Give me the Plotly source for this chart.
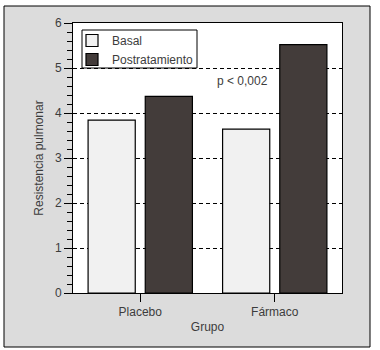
import plotly.graph_objects as go

categories = ["Placebo", "Fármaco"]
basal = [3.84, 3.64]
postratamiento = [4.37, 5.52]
series_names = ["Basal", "Postratamiento"]
y_ticks = [0, 1, 2, 3, 4, 5, 6]
annotation_text = "p < 0,002"

W, H = 380, 350
L, R, T, B = 73, 38, 23, 57
pw, ph = W - L - R, H - T - B

def px2paper_x(px):
    return (px - L) / pw

def px2paper_y(py):
    return (H - B - py) / ph

txt = "#3c3c3c"
font = dict(family="Liberation Sans, Arial, sans-serif", size=12, color=txt)

fig = go.Figure()
fig.add_trace(go.Bar(
    x=categories, y=basal, name=series_names[0],
    marker=dict(color="#f1f1f1", line=dict(color="black", width=1.2)),
))
fig.add_trace(go.Bar(
    x=categories, y=postratamiento, name=series_names[1],
    marker=dict(color="#433c3a", line=dict(color="black", width=1.2)),
))

fig.update_layout(
    width=W, height=H,
    margin=dict(l=L, r=R, t=T, b=B),
    paper_bgcolor="white", plot_bgcolor="white",
    font=font,
    barmode="group", bargap=0.15, bargroupgap=0.175,
    showlegend=True,
    legend=dict(
        x=px2paper_x(72), y=px2paper_y(26), xanchor="left", yanchor="top",
        bgcolor="rgba(0,0,0,0)", borderwidth=0,
        font=font, tracegroupgap=0,
    ),
    shapes=[
        dict(type="rect", xref="paper", yref="paper", layer="below",
             x0=px2paper_x(4), x1=px2paper_x(370), y0=px2paper_y(347), y1=px2paper_y(6),
             fillcolor="#dcdcdc", line=dict(color="black", width=1)),
        dict(type="rect", xref="paper", yref="paper", layer="below",
             x0=0, x1=1, y0=0, y1=1, fillcolor="white", line=dict(width=0)),
        # legend frame
        dict(type="rect", xref="paper", yref="paper", layer="above",
             x0=px2paper_x(82), x1=px2paper_x(197), y0=px2paper_y(68), y1=px2paper_y(30),
             fillcolor="white", line=dict(color="black", width=1)),
    ],
    annotations=[
        dict(x=0.76, y=4.72, xref="x", yref="y", text=annotation_text,
             showarrow=False, font=font),
    ],
)

fig.update_xaxes(
    range=[-0.5, 1.5],
    showline=True, linecolor="black", linewidth=1, mirror=True,
    ticks="outside", ticklen=8, tickcolor="black",
    showgrid=False,
    title=dict(text="Grupo", font=font, standoff=4),
    tickfont=font,
)
fig.update_yaxes(
    range=[0, 6], tickvals=y_ticks,
    showline=True, linecolor="black", linewidth=1, mirror=True,
    ticks="outside", ticklen=8, tickcolor="black",
    showgrid=True, gridcolor="black", gridwidth=1, griddash="4px,3px",
    zeroline=False,
    minor=dict(dtick=0.2, ticks="outside", ticklen=5, tickcolor="black", showgrid=False),
    title=dict(text="Resistencia pulmonar", font=font, standoff=8),
    tickfont=font,
)

fig.write_html(
    "out.html",
    config={"displayModeBar": False},
    post_script="document.body.style.margin='0';document.body.style.padding='0';",
)
